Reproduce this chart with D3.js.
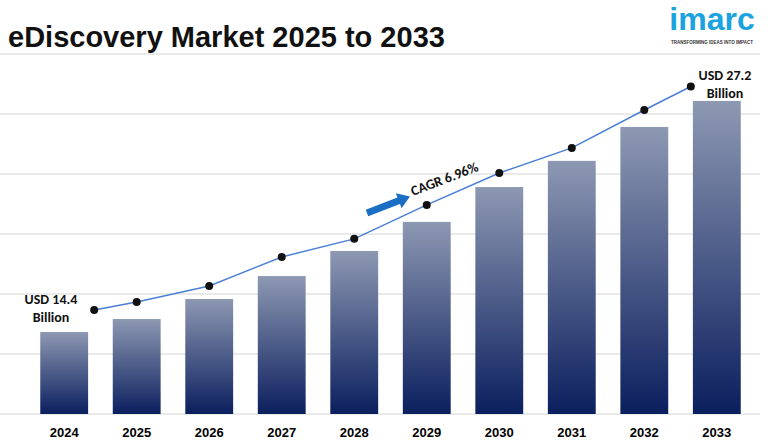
<!DOCTYPE html><html><head><meta charset="utf-8"><script src="https://cdn.jsdelivr.net/npm/d3@7"></script>
<style>body{margin:0;background:#fff}</style></head><body><svg id="c" width="780" height="440"></svg>
<script>
const years=["2024","2025","2026","2027","2028","2029","2030","2031","2032","2033"];
const barValues=[14.4,15.12,16.23,17.5,18.89,20.5,22.43,23.88,25.76,27.2];
const lineValues=[15.62,16.06,16.95,18.56,19.56,21.44,23.21,24.6,26.7,28.0];
const startLabel=["USD 14.4","Billion"], endLabel=["USD 27.2","Billion"];
const cagrLabel="CAGR 6.96%";
const svg=d3.select("#c");
const x=d3.scaleBand().domain(years).range([33,748]).paddingInner(0.34).paddingOuter(0.1);
const y=d3.scaleLinear().domain([9.86,29.8]).range([414,54]);
const defs=svg.append("defs");
const g=defs.append("linearGradient").attr("id","bg").attr("x1",0).attr("x2",0).attr("y1",0).attr("y2",1);
g.append("stop").attr("offset","0%").attr("stop-color","#8d98b2");
g.append("stop").attr("offset","100%").attr("stop-color","#0b1f5e");
svg.append("g").selectAll("line").data(d3.range(0,7)).join("line")
 .attr("x1",0).attr("x2",760).attr("y1",i=>414-i*60).attr("y2",i=>414-i*60)
 .attr("stroke","#d4d4d4").attr("stroke-width",1);
svg.append("g").selectAll("rect").data(barValues).join("rect")
 .attr("x",(d,i)=>x(years[i])).attr("width",x.bandwidth())
 .attr("y",d=>y(d)).attr("height",d=>414-y(d)).attr("fill","url(#bg)");
svg.append("g").selectAll("text").data(years).join("text")
 .attr("x",d=>x(d)+x.bandwidth()/2).attr("y",437).attr("text-anchor","middle")
 .attr("font-family","Arial, Liberation Sans").attr("font-weight","bold").attr("font-size",13).text(d=>d);
const lx=(i)=>x(years[i])+x.bandwidth()/2+(i===0?30:i===9?-26:0);
const line=d3.line().x((d,i)=>lx(i)).y(d=>y(d));
svg.append("path").datum(lineValues).attr("d",line).attr("fill","none").attr("stroke","#4a7fd4").attr("stroke-width",1.5);
svg.append("g").selectAll("circle").data(lineValues).join("circle")
 .attr("cx",(d,i)=>lx(i)).attr("cy",d=>y(d)).attr("r",4).attr("fill","#111");
const lbl=(lines,xx,yy,anchor)=>{const t=svg.append("text").attr("font-family","Calibri, Carlito, Liberation Sans, Arial").attr("font-weight","bold").attr("font-size",14).attr("text-anchor",anchor).attr("fill","#111");
 lines.forEach((s,k)=>t.append("tspan").attr("x",xx).attr("y",yy+k*18).text(s));};
lbl(startLabel,51,304,"middle");
lbl(endLabel,725,80,"middle");
const ag=svg.append("g").attr("transform","translate(367,213) rotate(-21)");
ag.append("rect").attr("x",0).attr("y",-3.5).attr("width",36).attr("height",7).attr("fill","#1a6ec4");
ag.append("path").attr("d","M34,-8 L46,0 L34,8 Z").attr("fill","#1a6ec4");
svg.append("text").attr("transform","translate(413,196) rotate(-21)").attr("font-family","Calibri, Carlito, Liberation Sans, Arial").attr("font-weight","bold").attr("font-size",14).attr("fill","#111").text(cagrLabel);
svg.append("text").attr("x",8).attr("y",47).attr("font-family","Arial, Liberation Sans").attr("font-weight","bold").attr("font-size",29).attr("fill","#111").text("eDiscovery Market 2025 to 2033");
svg.append("text").attr("x",712).attr("y",30).attr("text-anchor","middle").attr("font-family","Arial, Liberation Sans").attr("font-weight","bold").attr("font-size",32).attr("fill","#1aa3e0").text("imarc");
svg.append("text").attr("x",712).attr("y",44).attr("text-anchor","middle").attr("font-family","Arial, Liberation Sans").attr("font-weight","bold").attr("font-size",4.5).attr("fill","#333").text("TRANSFORMING IDEAS INTO IMPACT");
</script></body></html>
